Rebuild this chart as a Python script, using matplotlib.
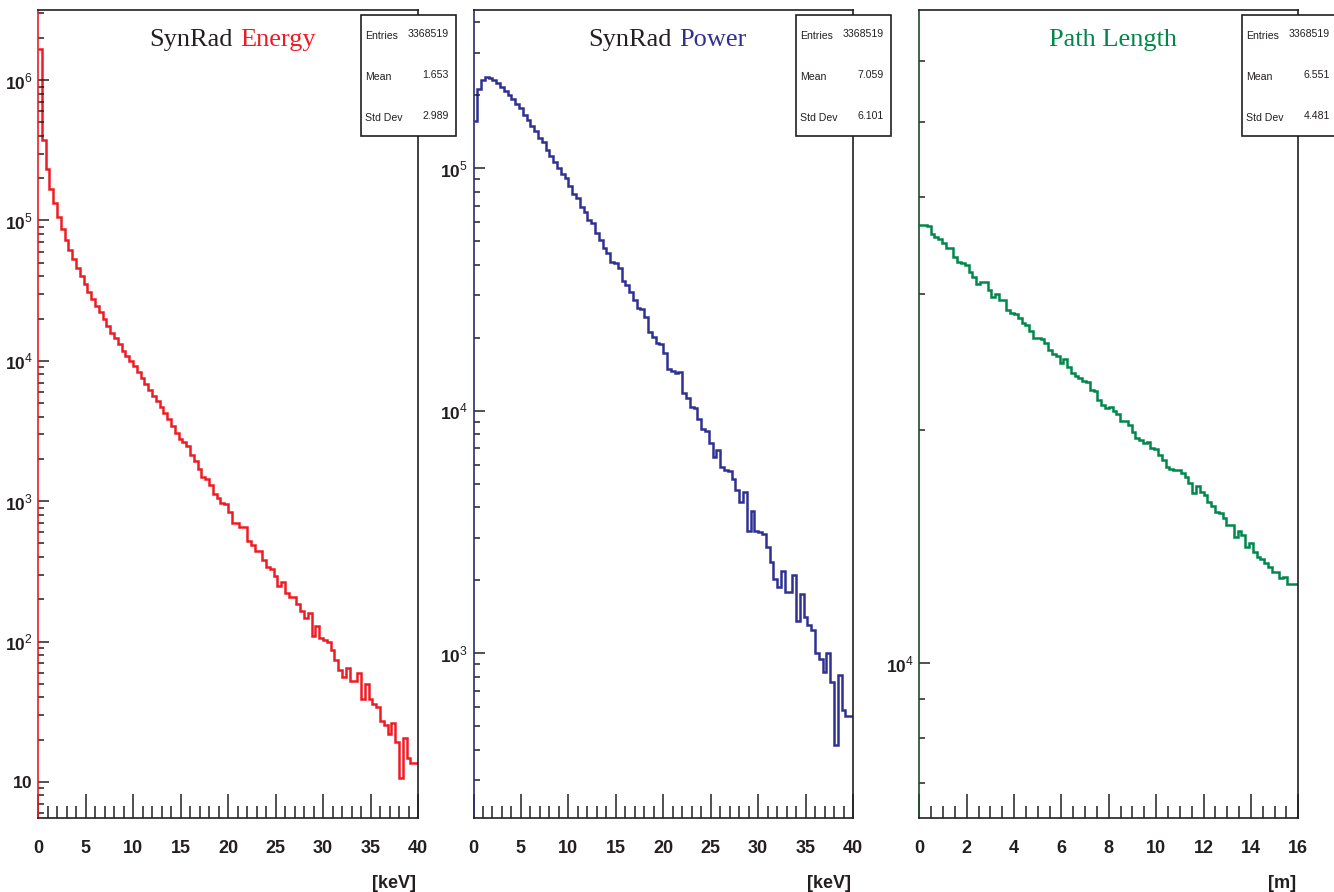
import numpy as np
import matplotlib.pyplot as plt
from matplotlib.patches import Rectangle
from matplotlib.ticker import FixedLocator, NullFormatter

plt.rcParams['font.family'] = 'Liberation Sans'
plt.rcParams['mathtext.fontset'] = 'custom'
plt.rcParams['mathtext.rm'] = 'Liberation Sans'
plt.rcParams['mathtext.bf'] = 'Liberation Sans:bold'

# bin contents (100 bins each)
energy_counts = [
    1.68e6, 3.73e5, 2.34e5, 1.68e5, 1.33e5, 1.06e5, 8.7e4, 7.3e4, 6.2e4, 5.3e4,
    4.6e4, 4.0e4, 3.5e4, 3.1e4, 2.75e4, 2.44e4, 2.21e4, 1.99e4, 1.78e4, 1.59e4,
    1.45e4, 1.32e4, 1.18e4, 1.09e4, 9.9e3, 9.2e3, 8.3e3, 7.5e3, 6.8e3, 6.17e3,
    5.62e3, 5.18e3, 4.69e3, 4.27e3, 3.83e3, 3.43e3, 3.08e3, 2.76e3, 2.66e3, 2.47e3,
    2.15e3, 1.93e3, 1.69e3, 1.48e3, 1.45e3, 1.30e3, 1.13e3, 1.05e3, 975, 955,
    840, 700, 700, 656, 656, 524, 490, 440, 440, 383,
    340, 330, 291, 247, 264, 220, 207, 207, 186, 166,
    148, 159, 109, 129, 106, 103, 100, 87, 74, 63,
    56, 65, 52, 52, 60, 39, 50, 39, 36, 34,
    27, 25.4, 22, 26.4, 19.3, 10.7, 20.4, 14.7, 13.7, 13.7,
]
power_counts = [
    1.57e5, 2.12e5, 2.31e5, 2.39e5, 2.37e5, 2.31e5, 2.24e5, 2.17e5, 2.09e5, 2.0e5,
    1.93e5, 1.85e5, 1.77e5, 1.66e5, 1.59e5, 1.49e5, 1.43e5, 1.34e5, 1.28e5, 1.19e5,
    1.12e5, 1.06e5, 1.0e5, 9.5e4, 9.1e4, 8.46e4, 7.83e4, 7.52e4, 6.95e4, 6.61e4,
    6.12e4, 5.93e4, 5.4e4, 5.06e4, 4.68e4, 4.46e4, 4.12e4, 4.08e4, 3.87e4, 3.44e4,
    3.3e4, 3.1e4, 2.86e4, 2.65e4, 2.62e4, 2.43e4, 2.12e4, 2.02e4, 1.9e4, 1.88e4,
    1.73e4, 14830, 14600, 14290, 14490, 11880, 11270, 10330, 10300, 9230,
    8390, 8260, 7390, 6470, 6890, 5880, 5700, 5650, 5220, 4710,
    4220, 4610, 3190, 3870, 3190, 3150, 3100, 2750, 2370, 2030,
    1870, 2190, 1780, 1795, 2100, 1360, 1750, 1405, 1310, 1250,
    1005, 944, 839, 1005, 757, 419, 810, 583, 552, 552,
]
path_counts = [
    36840, 36840, 36730, 35870, 35580, 35300, 34880, 34370, 34370, 33520,
    33030, 32870, 32710, 32060, 31590, 30900, 31060, 31120, 30360, 29760,
    30000, 29470, 29470, 28610, 28330, 28270, 27910, 27500, 27360, 26900,
    26290, 26290, 26210, 25900, 25390, 25090, 24940, 24450, 24700, 24160,
    23690, 23500, 23340, 23170, 23070, 22550, 22500, 21890, 21570, 21360,
    21420, 21150, 21000, 20530, 20570, 20320, 19920, 19530, 19430, 19240,
    19330, 18960, 18900, 18580, 18310, 17920, 17820, 17770, 17770, 17630,
    17390, 17080, 16610, 16950, 16660, 16500, 16130, 15940, 15700, 15650,
    15390, 15090, 15090, 14550, 14800, 14650, 14150, 14290, 13940, 13730,
    13630, 13460, 13330, 13130, 13130, 12870, 12910, 12660, 12660, 12660,
]

stat_names = ['Entries', 'Mean', 'Std Dev']
energy_stats = ['3368519', '1.653', '2.989']
power_stats = ['3368519', '7.059', '6.101']
path_stats = ['3368519', '6.551', '4.481']

W, H = 1334, 892
fig = plt.figure(figsize=(W / 100, H / 100), dpi=100)

dark = '#231f20'
red = '#ed1c24'
blue = '#2e3192'
green = '#00874a'


def sup(e):
    return r'$\mathbf{10}$' if e == 1 else r'$\mathbf{10}^{\mathrm{%d}}$' % e


def panel(left, width, counts, xmax, color, ylim, decades, xmajor, xminor,
          unit, spine_col):
    ax = fig.add_axes([left / W, (H - 818) / H, width / W, 808 / H])
    edges = np.linspace(0, xmax, len(counts) + 1)
    ax.stairs(counts, edges, color=color, lw=1.8, baseline=None)
    ax.set_yscale('log')
    ax.set_xlim(0, xmax)
    ax.set_ylim(*ylim)

    ax.set_xticks(xmajor, [f'{v:g}' for v in xmajor], fontweight='bold', fontsize=13)
    ax.set_xticks(xminor, minor=True)
    ax.set_yticks([10.0 ** e for e in decades], [sup(e) for e in decades], fontsize=12.5)
    minors = [k * 10.0 ** e for e in range(0, 7) for k in range(2, 10)]
    ax.yaxis.set_minor_locator(FixedLocator([m for m in minors if ylim[0] <= m <= ylim[1]]))
    ax.yaxis.set_minor_formatter(NullFormatter())

    ax.tick_params(axis='x', which='major', direction='in', length=17, width=1.1,
                   pad=16, colors=dark, top=False)
    ax.tick_params(axis='x', which='minor', direction='in', length=8.5, width=1.1,
                   color=dark, top=False)
    ax.tick_params(axis='y', which='major', direction='in', length=8, width=1.1,
                   pad=4, colors=dark, right=False)
    ax.tick_params(axis='y', which='minor', direction='in', length=4, width=1.1,
                   color=dark, right=False)
    for s in ax.spines.values():
        s.set_linewidth(1.2)
        s.set_color(dark)
    ax.spines['left'].set_color(spine_col)

    ax.text(1 - 2 / width, -70 / 808, unit, transform=ax.transAxes, ha='right',
            va='baseline', fontsize=13, fontweight='bold', color=dark)
    return ax


ax1 = panel(38, 380, energy_counts, 40, red, (5.53, 3.16e6), [1, 2, 3, 4, 5, 6],
            list(range(0, 41, 5)), [i for i in range(1, 40) if i % 5], '[keV]', red)
ax2 = panel(473.5, 379.5, power_counts, 40, blue, (209, 4.5e5), [3, 4, 5],
            list(range(0, 41, 5)), [i for i in range(1, 40) if i % 5], '[keV]', '#2a2c70')
ax3 = panel(919.3, 379, path_counts, 16, green, (6310, 69800), [4],
            list(range(0, 17, 2)), [i * 0.5 for i in range(1, 32) if i % 4], '[m]', '#1d4a33')

# titles
yb = (818 - 46) / 808
tfont = dict(family='Liberation Serif', fontsize=19, va='baseline')
ax1.text(0.513, yb, 'SynRad', transform=ax1.transAxes, ha='right', color=dark, **tfont)
ax1.text(0.533, yb, 'Energy', transform=ax1.transAxes, ha='left', color=red, **tfont)
ax2.text(0.522, yb, 'SynRad', transform=ax2.transAxes, ha='right', color=dark, **tfont)
ax2.text(0.542, yb, 'Power', transform=ax2.transAxes, ha='left', color=blue, **tfont)
ax3.text(0.512, yb, 'Path Length', transform=ax3.transAxes, ha='center', color=green, **tfont)

# stats boxes
for x0, vals in [(361, energy_stats), (796, power_stats), (1242, path_stats)]:
    fig.add_artist(Rectangle((x0 / W, 1 - 136 / H), 95 / W, 121 / H,
                             transform=fig.transFigure, facecolor='white',
                             edgecolor=dark, lw=1.2, zorder=10))
    for i, (name, val) in enumerate(zip(stat_names, vals)):
        yc = 36 + 41 * i
        fig.text((x0 + 4) / W, 1 - yc / H, name, ha='left', va='center',
                 fontsize=7.6, color=dark, zorder=11)
        fig.text((x0 + 88) / W, 1 - (yc - 2) / H, val, ha='right', va='center',
                 fontsize=7.6, color=dark, zorder=11)

fig.savefig('out.png', dpi=100)
